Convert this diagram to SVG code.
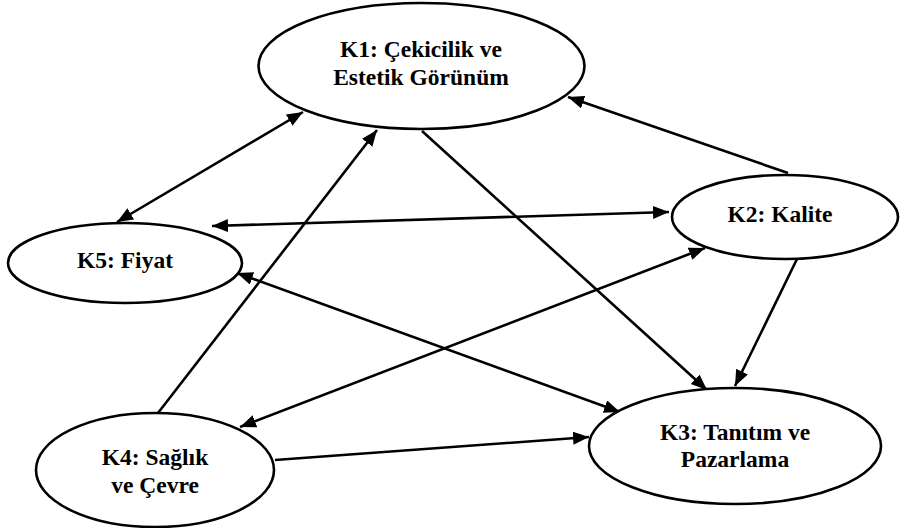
<svg xmlns="http://www.w3.org/2000/svg" width="900" height="528" viewBox="0 0 900 528">
<style>
.node ellipse{fill:#fff;stroke:#000;stroke-width:2.6}
.node text{font-family:"Liberation Serif","Times New Roman",serif;font-weight:bold;font-size:23.5px;fill:#000;text-anchor:middle}
.edges path{fill:none;stroke:#000;stroke-width:2.6}
.one{marker-end:url(#ah)}
.two{marker-end:url(#ah);marker-start:url(#ah)}
</style>
<defs>
<marker id="ah" markerUnits="userSpaceOnUse" markerWidth="17" markerHeight="14" refX="16" refY="6.5" orient="auto-start-reverse">
<path d="M0,0 L16,6.5 L0,13 z" fill="#000"/>
</marker>
</defs>
<rect width="900" height="528" fill="#fff"/>
<g class="edges">
<path class="two" d="M303,112 L117,222"/>
<path class="one" d="M158,413 L377,130"/>
<path class="one" d="M788,173 L568,97"/>
<path class="two" d="M212,226 L669,212"/>
<path class="one" d="M422,131 L707,390"/>
<path class="one" d="M797,259 L735,386"/>
<path class="two" d="M237,273 L620,412"/>
<path class="two" d="M240,427 L705,248"/>
<path class="one" d="M275,460 L589,437"/>
</g>
<g id="K1" class="node">
<ellipse cx="421.5" cy="66" rx="163" ry="63"/>
<text x="421" y="57">K1: Çekicilik ve</text>
<text x="421" y="85">Estetik Görünüm</text>
</g>
<g id="K2" class="node">
<ellipse cx="785" cy="217" rx="113" ry="42"/>
<text x="780" y="222">K2: Kalite</text>
</g>
<g id="K5" class="node">
<ellipse cx="125" cy="263" rx="117" ry="40"/>
<text x="125" y="268">K5: Fiyat</text>
</g>
<g id="K4" class="node">
<ellipse cx="155" cy="470" rx="119" ry="57"/>
<text x="155" y="465">K4: Sağlık</text>
<text x="155" y="493">ve Çevre</text>
</g>
<g id="K3" class="node">
<ellipse cx="735" cy="446" rx="146" ry="58"/>
<text x="735" y="440">K3: Tanıtım ve</text>
<text x="735" y="467">Pazarlama</text>
</g>
</svg>
